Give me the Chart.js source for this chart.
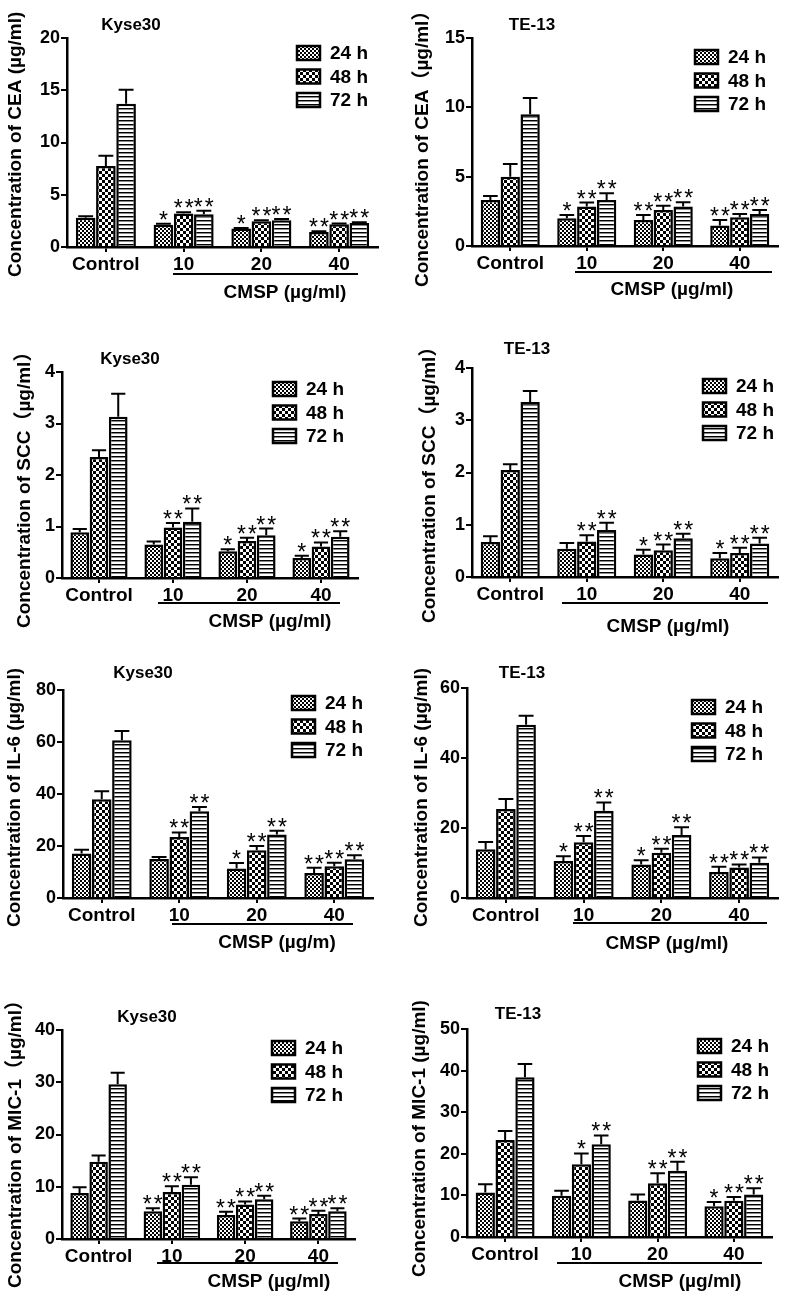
<!DOCTYPE html>
<html lang="en">
<head>
  <meta charset="UTF-8" />
  <title>CMSP – CEA, SCC, IL-6, MIC-1 in Kyse30 and TE-13</title>
  <script src="https://cdn.jsdelivr.net/npm/chart.js"></script>
  <style>
    html, body { margin: 0; padding: 0; background: #fff; }
    #page { position: relative; width: 787px; height: 1297px; }
    #page canvas { position: absolute; left: 0; top: 0; }
  </style>
</head>
<body>
  <div id="page"></div>

  <script>
    // ---- data ----
    const groups = ['Control', '10', '20', '40'];
    const times = ['24 h', '48 h', '72 h'];

    // Kyse30 CEA
    const ceaKyse = [[2.8, 2.14, 1.76, 1.44], [7.74, 3.2, 2.46, 2.18], [13.7, 3.14, 2.56, 2.3]];
    const ceaKyseErr = [[0.15, 0.08, 0.05, 0.06], [1.0, 0.12, 0.1, 0.06], [1.34, 0.32, 0.12, 0.06]];
    const ceaKyseSig = [['', '*', '*', '**'], ['', '**', '**', '**'], ['', '**', '**', '**']];
    const ceaKyseTicks = [0, 5, 10, 15, 20];

    // TE-13 CEA
    const ceaTe = [[3.32, 2.0, 1.88, 1.47], [5.0, 2.84, 2.6, 2.07], [9.51, 3.32, 2.84, 2.31]];
    const ceaTeErr = [[0.28, 0.24, 0.36, 0.41], [0.92, 0.29, 0.31, 0.24], [1.16, 0.48, 0.31, 0.29]];
    const ceaTeSig = [['', '*', '**', '**'], ['', '**', '**', '**'], ['', '**', '**', '**']];
    const ceaTeTicks = [0, 5, 10, 15];

    // Kyse30 SCC
    const sccKyse = [[0.89, 0.65, 0.52, 0.39], [2.35, 0.98, 0.72, 0.61], [3.13, 1.09, 0.83, 0.8]];
    const sccKyseErr = [[0.06, 0.06, 0.04, 0.04], [0.13, 0.09, 0.06, 0.08], [0.45, 0.26, 0.13, 0.11]];
    const sccKyseSig = [['', '', '*', '*'], ['', '**', '**', '**'], ['', '**', '**', '**']];
    const sccKyseTicks = [0, 1, 2, 3, 4];

    // TE-13 SCC
    const sccTe = [[0.67, 0.54, 0.43, 0.36], [2.05, 0.68, 0.51, 0.46], [3.35, 0.9, 0.74, 0.64]];
    const sccTeErr = [[0.11, 0.11, 0.09, 0.1], [0.11, 0.12, 0.11, 0.1], [0.21, 0.14, 0.09, 0.11]];
    const sccTeSig = [['', '', '*', '*'], ['', '**', '**', '**'], ['', '**', '**', '**']];
    const sccTeTicks = [0, 1, 2, 3, 4];

    // Kyse30 IL-6
    const il6Kyse = [[17.1, 15.0, 11.3, 9.6], [38.0, 23.5, 18.4, 12.2], [60.7, 33.4, 24.4, 14.9]];
    const il6KyseErr = [[1.5, 0.8, 2.2, 2.0], [3.1, 1.7, 1.6, 1.4], [3.5, 1.6, 1.5, 1.5]];
    const il6KyseSig = [['', '', '*', '**'], ['', '**', '**', '**'], ['', '**', '**', '**']];
    const il6KyseTicks = [0, 20, 40, 60, 80];

    // TE-13 IL-6
    const il6Te = [[13.9, 10.6, 9.55, 7.45], [25.4, 15.9, 12.9, 8.7], [49.5, 24.9, 18.0, 10.1]];
    const il6TeErr = [[2.1, 1.3, 1.25, 1.45], [2.9, 1.8, 1.2, 0.9], [2.6, 2.4, 2.2, 1.5]];
    const il6TeSig = [['', '*', '*', '**'], ['', '**', '**', '**'], ['', '**', '**', '**']];
    const il6TeTicks = [0, 20, 40, 60];

    // Kyse30 MIC-1
    const micKyse = [[8.8, 5.3, 4.6, 3.4], [14.8, 9.0, 6.6, 4.8], [29.6, 10.4, 7.6, 5.3]];
    const micKyseErr = [[1.1, 0.6, 0.6, 0.5], [1.2, 1.1, 0.6, 0.6], [2.2, 1.4, 0.7, 0.6]];
    const micKyseSig = [['', '**', '**', '**'], ['', '**', '**', '**'], ['', '**', '**', '**']];
    const micKyseTicks = [0, 10, 20, 30, 40];

    // TE-13 MIC-1
    const micTe = [[10.7, 9.9, 8.8, 7.4], [23.3, 17.5, 12.9, 8.7], [38.4, 22.3, 15.9, 10.2]];
    const micTeErr = [[2.0, 1.2, 1.4, 1.0], [2.2, 2.6, 2.4, 0.9], [3.2, 2.1, 2.2, 1.5]];
    const micTeSig = [['', '', '', '*'], ['', '*', '**', '**'], ['', '**', '**', '**']];
    const micTeTicks = [0, 10, 20, 30, 40, 50];

    // ---- panels: data + where each one sits on the page ----
    const panels = [
      { title: 'Kyse30', yTitle: 'Concentration of CEA (µg/ml)', xTitle: 'CMSP (µg/ml)',
        mean: ceaKyse, err: ceaKyseErr, sig: ceaKyseSig, ticks: ceaKyseTicks,
        area: { left: 67, top: 38, right: 378, bottom: 247 }, titleAt: [131, 25],
        legendAt: [297, 53], underline: [173, 358, 274], xTitleAt: [285, 293], yTitleAt: [16, 277] },
      { title: 'TE-13', yTitle: 'Concentration of CEA（µg/ml）', xTitle: 'CMSP (µg/ml)',
        mean: ceaTe, err: ceaTeErr, sig: ceaTeSig, ticks: ceaTeTicks,
        area: { left: 472, top: 38, right: 778, bottom: 246 }, titleAt: [532, 25],
        legendAt: [695, 57], underline: [575, 772, 272], xTitleAt: [672, 290], yTitleAt: [423, 287] },
      { title: 'Kyse30', yTitle: 'Concentration of SCC（µg/ml）', xTitle: 'CMSP (µg/ml)',
        mean: sccKyse, err: sccKyseErr, sig: sccKyseSig, ticks: sccKyseTicks,
        area: { left: 62, top: 372, right: 358, bottom: 578 }, titleAt: [130, 359],
        legendAt: [273, 389], underline: [158, 340, 603], xTitleAt: [270, 622], yTitleAt: [25, 628] },
      { title: 'TE-13', yTitle: 'Concentration of SCC（µg/ml）', xTitle: 'CMSP (µg/ml)',
        mean: sccTe, err: sccTeErr, sig: sccTeSig, ticks: sccTeTicks,
        area: { left: 472, top: 368, right: 778, bottom: 577 }, titleAt: [527, 349],
        legendAt: [703, 386], underline: [562, 768, 603], xTitleAt: [668, 627], yTitleAt: [430, 623] },
      { title: 'Kyse30', yTitle: 'Concentration of IL-6 (µg/ml)', xTitle: 'CMSP (µg/m)',
        mean: il6Kyse, err: il6KyseErr, sig: il6KyseSig, ticks: il6KyseTicks,
        area: { left: 63, top: 690, right: 373, bottom: 898 }, titleAt: [143, 673],
        legendAt: [292, 703], underline: [172, 353, 924], xTitleAt: [277, 943], yTitleAt: [15, 927] },
      { title: 'TE-13', yTitle: 'Concentration of IL-6 (µg/ml)', xTitle: 'CMSP (µg/ml)',
        mean: il6Te, err: il6TeErr, sig: il6TeSig, ticks: il6TeTicks,
        area: { left: 467, top: 688, right: 778, bottom: 898 }, titleAt: [522, 673],
        legendAt: [692, 707], underline: [573, 767, 923], xTitleAt: [667, 944], yTitleAt: [422, 927] },
      { title: 'Kyse30', yTitle: 'Concentration of MIC-1（µg/ml）', xTitle: 'CMSP (µg/ml)',
        mean: micKyse, err: micKyseErr, sig: micKyseSig, ticks: micKyseTicks,
        area: { left: 62, top: 1030, right: 355, bottom: 1239 }, titleAt: [147, 1017],
        legendAt: [272, 1048], underline: [157, 338, 1263], xTitleAt: [269, 1282], yTitleAt: [16, 1288] },
      { title: 'TE-13', yTitle: 'Concentration of MIC-1 (µg/ml)', xTitle: 'CMSP (µg/ml)',
        mean: micTe, err: micTeErr, sig: micTeSig, ticks: micTeTicks,
        area: { left: 467, top: 1029, right: 772, bottom: 1237 }, titleAt: [518, 1014],
        legendAt: [698, 1046], underline: [557, 762, 1263], xTitleAt: [680, 1282], yTitleAt: [420, 1277] }
    ];

    const PAGE_W = 787, PAGE_H = 1297;
    const Y_W = 50, X_H = 40;
    const FONT = 'Arial, "Liberation Sans", "Noto Sans CJK SC", sans-serif';

    // bar fills: fine checker, coarse checker, horizontal lines
    function makePattern(kind) {
      const c = document.createElement('canvas');
      const g = c.getContext('2d');
      if (kind === 0) {
        c.width = 4; c.height = 4;
        g.fillStyle = '#fff'; g.fillRect(0, 0, 4, 4);
        g.fillStyle = '#000'; g.fillRect(0, 0, 2, 2); g.fillRect(2, 2, 2, 2);
      } else if (kind === 1) {
        c.width = 6; c.height = 6;
        g.fillStyle = '#fff'; g.fillRect(0, 0, 6, 6);
        g.fillStyle = '#000'; g.fillRect(0, 0, 3, 3); g.fillRect(3, 3, 3, 3);
      } else {
        c.width = 4; c.height = 4;
        g.fillStyle = '#fff'; g.fillRect(0, 0, 4, 4);
        g.fillStyle = '#000'; g.fillRect(0, 0, 4, 1);
        g.fillStyle = '#888'; g.fillRect(0, 1, 4, 1);
      }
      return g.createPattern(c, 'repeat');
    }

    const decorPlugin = {
      id: 'decor',
      afterDatasetsDraw(chart) {
        const p = chart.config.options.panel;
        const ctx = chart.ctx;
        const yScale = chart.scales.y;
        ctx.save();
        ctx.strokeStyle = '#000';
        ctx.fillStyle = '#000';
        ctx.lineWidth = 2;
        ctx.font = '23px ' + FONT;
        ctx.textAlign = 'center';
        ctx.textBaseline = 'alphabetic';
        const starDesc = ctx.measureText('*').actualBoundingBoxDescent;
        chart.data.datasets.forEach((ds, i) => {
          chart.getDatasetMeta(i).data.forEach((el, j) => {
            const { x, y, width } = el.getProps(['x', 'y', 'width'], true);
            const yTop = yScale.getPixelForValue(ds.data[j] + p.err[i][j]);
            const cap = width * 0.38;
            ctx.beginPath();
            ctx.moveTo(x, y);
            ctx.lineTo(x, yTop);
            ctx.moveTo(x - cap, yTop);
            ctx.lineTo(x + cap, yTop);
            ctx.stroke();
            const s = p.sig[i][j];
            if (s) {
              const base = yTop - 4 - starDesc;
              if (s.length === 1) ctx.fillText('*', x, base);
              else { ctx.fillText('*', x - 5.5, base); ctx.fillText('*', x + 5.5, base); }
            }
          });
        });
        ctx.restore();
      },
      afterDraw(chart) {
        const p = chart.config.options.panel;
        const ctx = chart.ctx;
        ctx.save();
        ctx.fillStyle = '#000';
        ctx.strokeStyle = '#000';

        // panel title
        ctx.font = 'bold 17px ' + FONT;
        ctx.textAlign = 'center';
        ctx.textBaseline = 'middle';
        ctx.fillText(p.title, p.titleAt[0], p.titleAt[1]);

        // legend
        ctx.font = 'bold 19px ' + FONT;
        ctx.textAlign = 'left';
        times.forEach((t, i) => {
          const bx = p.legendAt[0], cy = p.legendAt[1] + i * 23.5;
          ctx.fillStyle = chart.data.datasets[i].backgroundColor;
          ctx.fillRect(bx, cy - 7, 23, 14);
          ctx.lineWidth = 2.5;
          ctx.strokeRect(bx, cy - 7, 23, 14);
          ctx.fillStyle = '#000';
          ctx.fillText(t, bx + 33, cy + 1);
        });

        // CMSP bracket line and label
        ctx.lineWidth = 2;
        ctx.beginPath();
        ctx.moveTo(p.underline[0], p.underline[2]);
        ctx.lineTo(p.underline[1], p.underline[2]);
        ctx.stroke();
        ctx.textAlign = 'center';
        ctx.fillText(p.xTitle, p.xTitleAt[0], p.xTitleAt[1]);

        // y title
        ctx.translate(p.yTitleAt[0], p.yTitleAt[1]);
        ctx.rotate(-Math.PI / 2);
        ctx.textAlign = 'left';
        ctx.fillText(p.yTitle, 0, 0);
        ctx.restore();
      }
    };

    const page = document.getElementById('page');
    const fills = [makePattern(0), makePattern(1), makePattern(2)];

    panels.forEach(p => {
      const canvas = document.createElement('canvas');
      canvas.width = PAGE_W;
      canvas.height = PAGE_H;
      page.appendChild(canvas);
      const tickMax = p.ticks[p.ticks.length - 1];
      const step = p.ticks[1] - p.ticks[0];

      new Chart(canvas.getContext('2d'), {
        type: 'bar',
        data: {
          labels: groups,
          datasets: times.map((t, i) => ({
            label: t,
            data: p.mean[i],
            backgroundColor: fills[i],
            borderColor: '#000',
            borderWidth: 2.5,
            categoryPercentage: 0.78,
            barPercentage: 0.97
          }))
        },
        options: {
          panel: p,
          responsive: false,
          animation: false,
          events: [],
          layout: {
            padding: {
              left: p.area.left - Y_W,
              top: p.area.top,
              right: PAGE_W - p.area.right,
              bottom: PAGE_H - p.area.bottom - X_H
            }
          },
          plugins: { legend: { display: false }, tooltip: { enabled: false }, title: { display: false } },
          scales: {
            x: {
              offset: true,
              grid: { drawOnChartArea: false, offset: false, tickLength: 5, lineWidth: 2, color: '#000' },
              border: { display: true, color: '#000', width: 2.5 },
              ticks: { color: '#000', padding: 1, maxRotation: 0, autoSkip: false,
                       font: { family: FONT, size: 19, weight: 'bold' } },
              afterFit(s) { s.height = X_H; }
            },
            y: {
              min: 0,
              max: tickMax,
              grid: { drawOnChartArea: false, tickLength: 6, lineWidth: 2, color: '#000' },
              border: { display: true, color: '#000', width: 2.5 },
              ticks: { stepSize: step, color: '#000', padding: 1,
                       font: { family: FONT, size: 18, weight: 'bold' } },
              afterFit(s) { s.width = Y_W; }
            }
          }
        },
        plugins: [decorPlugin]
      });
    });
  </script>
</body>
</html>
